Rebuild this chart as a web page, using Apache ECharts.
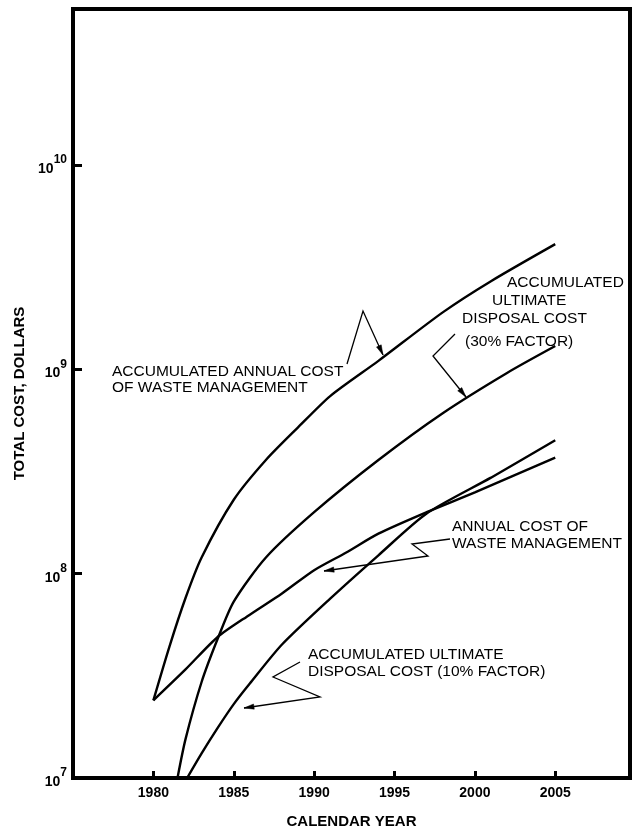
<!DOCTYPE html>
<html><head><meta charset="utf-8">
<script src="https://cdn.jsdelivr.net/npm/echarts@6/dist/echarts.min.js"></script>
<style>html,body{margin:0;padding:0;background:#fff}#c{width:634px;height:834px}</style>
</head><body><div id="c"></div>
<script>
// ---- data ----
const xTickLabels = [1980, 1985, 1990, 1995, 2000, 2005];
const yTickExponents = [7, 8, 9, 10];

// Accumulated annual cost of waste management
const accAnnualYears = [1980, 1981, 1982, 1983, 1985, 1987, 1989, 1991, 1994, 1998, 2001, 2005];
const accAnnualCost  = [2.4e7, 4.4e7, 7.6e7, 1.2e8, 2.3e8, 3.6e8, 5.2e8, 7.4e8, 1.1e9, 1.9e9, 2.7e9, 4.1e9];

// Accumulated ultimate disposal cost (30% factor)
const acc30Years = [1981.5, 1982, 1983, 1984, 1985, 1987, 1990, 1994, 1998, 2002, 2005];
const acc30Cost  = [1.0e7, 1.55e7, 2.95e7, 4.8e7, 7.3e7, 1.2e8, 2.0e8, 3.6e8, 6.1e8, 9.6e8, 1.3e9];

// Annual cost of waste management
const annualYears = [1980, 1982, 1984, 1986, 1988, 1990, 1992, 1994, 1997, 2000, 2005];
const annualCost  = [2.4e7, 3.4e7, 4.9e7, 6.3e7, 8.0e7, 1.04e8, 1.27e8, 1.57e8, 2.0e8, 2.5e8, 3.7e8];

// Accumulated ultimate disposal cost (10% factor)
const acc10Years = [1982.1, 1983, 1984, 1985, 1986, 1988, 1991, 1994, 1997, 2001, 2005];
const acc10Cost  = [1.0e7, 1.32e7, 1.76e7, 2.3e7, 2.9e7, 4.5e7, 7.55e7, 1.23e8, 1.97e8, 2.95e8, 4.5e8];

// ---- chart ----
const FONT = '"Liberation Sans", Arial, Helvetica, sans-serif';
const chart = echarts.init(document.getElementById('c'), null, {renderer: 'canvas'});

function pairs(xs, ys) { return xs.map((x, i) => [x, ys[i]]); }
function curve(name, xs, ys) {
  return {
    type: 'line', name: name, data: pairs(xs, ys),
    smooth: 0.25, symbol: 'none', clip: true, silent: true,
    lineStyle: {color: '#000', width: 2.4}
  };
}

const option = {
  animation: false,
  backgroundColor: '#fff',
  grid: {left: 73, right: 4, top: 9, bottom: 50, show: true, borderColor: '#000', borderWidth: 4, backgroundColor: 'transparent'},
  xAxis: {
    type: 'value', min: 1975, max: 2009.65, interval: 5,
    splitLine: {show: false},
    axisLine: {show: false},
    axisTick: {show: true, inside: true, length: 7, lineStyle: {color: '#000', width: 3}},
    axisLabel: {
      formatter: v => xTickLabels.includes(v) ? String(v) : '',
      fontFamily: FONT, fontWeight: 'bold', fontSize: 14, color: '#000', margin: 8
    },
    name: 'CALENDAR YEAR', nameLocation: 'middle', nameGap: 36,
    nameTextStyle: {fontFamily: FONT, fontWeight: 'bold', fontSize: 15, color: '#000'}
  },
  yAxis: {
    type: 'log', logBase: 10, min: 1e7, max: 5.8e10, interval: 1,
    splitLine: {show: false},
    axisLine: {show: false},
    axisTick: {show: true, inside: true, length: 9, lineStyle: {color: '#000', width: 3}},
    axisLabel: {
      margin: 6,
      formatter: function (v) {
        const e = Math.log10(v);
        const r = Math.round(e);
        if (Math.abs(e - r) > 1e-6 || !yTickExponents.includes(r)) return '';
        return '{b|10}{s|' + r + '}';
      },
      rich: {
        b: {fontFamily: FONT, fontWeight: 'bold', fontSize: 14, color: '#000', lineHeight: 22, verticalAlign: 'bottom'},
        s: {fontFamily: FONT, fontWeight: 'bold', fontSize: 12, color: '#000', lineHeight: 22, verticalAlign: 'top'}
      }
    },
    name: 'TOTAL COST, DOLLARS', nameLocation: 'middle', nameGap: 44,
    nameTextStyle: {fontFamily: FONT, fontWeight: 'bold', fontSize: 15, color: '#000'}
  },
  series: [
    curve('Accumulated annual cost of waste management', accAnnualYears, accAnnualCost),
    curve('Accumulated ultimate disposal cost (30% factor)', acc30Years, acc30Cost),
    curve('Annual cost of waste management', annualYears, annualCost),
    curve('Accumulated ultimate disposal cost (10% factor)', acc10Years, acc10Cost)
  ]
};
chart.setOption(option);

// ---- annotations (text labels with leader lines) ----
const annFont = {fontFamily: FONT, fontSize: 15.5, fill: '#000', align: 'left', verticalAlign: 'middle'};
const annTexts = [
  ['ACCUMULATED ANNUAL COST', 112, 372],
  ['OF WASTE MANAGEMENT', 112, 388],
  ['ACCUMULATED', 507, 283],
  ['ULTIMATE', 492, 301],
  ['DISPOSAL COST', 462, 319],
  ['(30% FACTOR)', 465, 342],
  ['ANNUAL COST OF', 452, 527],
  ['WASTE MANAGEMENT', 452, 544],
  ['ACCUMULATED ULTIMATE', 308, 655],
  ['DISPOSAL COST (10% FACTOR)', 308, 672]
];
const leaders = [
  [[347, 364], [363, 311], [383, 355]],
  [[455, 334], [433, 356], [466, 397]],
  [[450, 539], [412, 544], [428, 556], [324, 571]],
  [[300, 662], [273, 677], [320, 697], [244, 708]]
];
function arrowHead(p0, p1) {
  const dx = p1[0] - p0[0], dy = p1[1] - p0[1];
  const L = Math.sqrt(dx * dx + dy * dy);
  const ux = dx / L, uy = dy / L;
  const len = 10, hw = 2.6;
  const bx = p1[0] - ux * len, by = p1[1] - uy * len;
  return [[p1[0], p1[1]], [bx - uy * hw, by + ux * hw], [bx + uy * hw, by - ux * hw]];
}
const graphics = [];
annTexts.forEach(t => graphics.push({type: 'text', x: t[1], y: t[2], silent: true,
  style: Object.assign({text: t[0]}, annFont)}));
leaders.forEach(pts => {
  graphics.push({type: 'polyline', silent: true, shape: {points: pts},
    style: {stroke: '#000', lineWidth: 1.3, fill: null}});
  const n = pts.length;
  graphics.push({type: 'polygon', silent: true, shape: {points: arrowHead(pts[n - 2], pts[n - 1])},
    style: {fill: '#000', stroke: '#000', lineWidth: 0.5}});
});
chart.setOption({graphic: graphics});
</script>
</body></html>
